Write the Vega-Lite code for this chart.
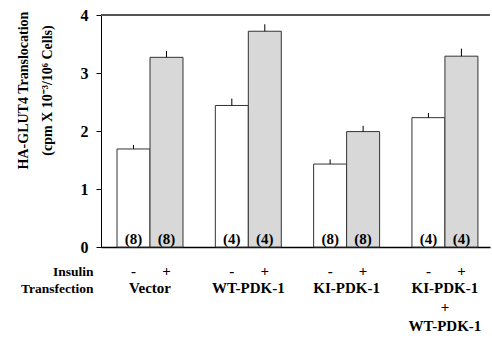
{
  "$schema": "https://vega.github.io/schema/vega-lite/v6.json",
  "autosize": {"type": "none"},
  "padding": {"left": 101, "top": 15, "right": 2, "bottom": 94},
  "width": 389,
  "height": 232,
  "config": {
    "view": {"stroke": null},
    "font": "Liberation Serif",
    "axis": {"labelFont": "Liberation Serif", "titleFont": "Liberation Serif", "labelColor": "black", "titleColor": "black", "domainColor": "black", "tickColor": "black"}
  },
  "data": {"values": [
    {"group": "Vector", "insulin": "-", "value": 1.69, "upper": 1.76, "n": "(8)"},
    {"group": "Vector", "insulin": "+", "value": 3.27, "upper": 3.38, "n": "(8)"},
    {"group": "WT-PDK-1", "insulin": "-", "value": 2.44, "upper": 2.56, "n": "(4)"},
    {"group": "WT-PDK-1", "insulin": "+", "value": 3.72, "upper": 3.84, "n": "(4)"},
    {"group": "KI-PDK-1", "insulin": "-", "value": 1.43, "upper": 1.51, "n": "(8)"},
    {"group": "KI-PDK-1", "insulin": "+", "value": 1.99, "upper": 2.09, "n": "(8)"},
    {"group": "KI-PDK-1 + WT-PDK-1", "insulin": "-", "value": 2.23, "upper": 2.31, "n": "(4)"},
    {"group": "KI-PDK-1 + WT-PDK-1", "insulin": "+", "value": 3.29, "upper": 3.42, "n": "(4)"}
  ]},
  "layer": [
    {
      "mark": {"type": "rule", "color": "#555", "strokeWidth": 1},
      "encoding": {"y": {"datum": 4, "type": "quantitative"}}
    },
    {
      "mark": {"type": "bar", "stroke": "#333", "strokeWidth": 1},
      "encoding": {
        "x": {
          "field": "group", "type": "nominal", "sort": null,
          "scale": {"paddingInner": 0.329, "paddingOuter": 0.143, "align": 0.57},
          "axis": {
            "title": ["Insulin", "Transfection"],
            "titleFontSize": 13.5, "titleFontWeight": "bold", "titleAlign": "right", "titleAnchor": "start",
            "titleX": -8, "titleY": 28, "titleBaseline": "alphabetic", "titleLineHeight": 17.5, "titleAngle": 0,
            "labelAngle": 0, "labelFontSize": 15, "labelFontWeight": "bold", "labelPadding": 33, "labelLineHeight": 19,
            "labelExpr": "datum.label == 'KI-PDK-1 + WT-PDK-1' ? ['KI-PDK-1', '+', 'WT-PDK-1'] : datum.label",
            "ticks": false, "domainWidth": 1.5
          }
        },
        "xOffset": {"field": "insulin", "type": "nominal", "sort": ["-", "+"], "scale": {"paddingInner": 0, "paddingOuter": 0}},
        "y": {
          "field": "value", "type": "quantitative",
          "scale": {"domain": [0, 4], "nice": false},
          "axis": {
            "values": [0, 1, 2, 3, 4], "format": "d", "grid": false,
            "labelFontSize": 16, "labelFontWeight": "bold", "labelPadding": 8, "tickSize": 5,
            "title": ["HA-GLUT4 Translocation", "(cpm X 10⁻³/10⁶ Cells)"],
            "titleFontSize": 14, "titleFontWeight": "bold", "titleLineHeight": 24,
            "titleX": -78, "titleY": 75, "titleBaseline": "middle", "titleAlign": "center"
          }
        },
        "fill": {"field": "insulin", "type": "nominal", "scale": {"domain": ["-", "+"], "range": ["#ffffff", "#d8d8d8"]}, "legend": null}
      }
    },
    {
      "mark": {"type": "rule", "color": "black", "strokeWidth": 1},
      "encoding": {
        "x": {"field": "group", "type": "nominal", "sort": null},
        "xOffset": {"field": "insulin", "type": "nominal", "sort": ["-", "+"]},
        "y": {"field": "value", "type": "quantitative"},
        "y2": {"field": "upper"}
      }
    },
    {
      "mark": {"type": "text", "font": "Liberation Serif", "fontWeight": "bold", "fontSize": 15, "baseline": "middle", "dy": -8},
      "encoding": {
        "x": {"field": "group", "type": "nominal", "sort": null},
        "xOffset": {"field": "insulin", "type": "nominal", "sort": ["-", "+"]},
        "y": {"datum": 0, "type": "quantitative"},
        "text": {"field": "n"}
      }
    },
    {
      "mark": {"type": "text", "font": "Liberation Serif", "fontWeight": "bold", "fontSize": 15, "baseline": "middle", "dy": 24},
      "encoding": {
        "x": {"field": "group", "type": "nominal", "sort": null},
        "xOffset": {"field": "insulin", "type": "nominal", "sort": ["-", "+"]},
        "y": {"datum": 0, "type": "quantitative"},
        "text": {"field": "insulin"}
      }
    }
  ]
}
